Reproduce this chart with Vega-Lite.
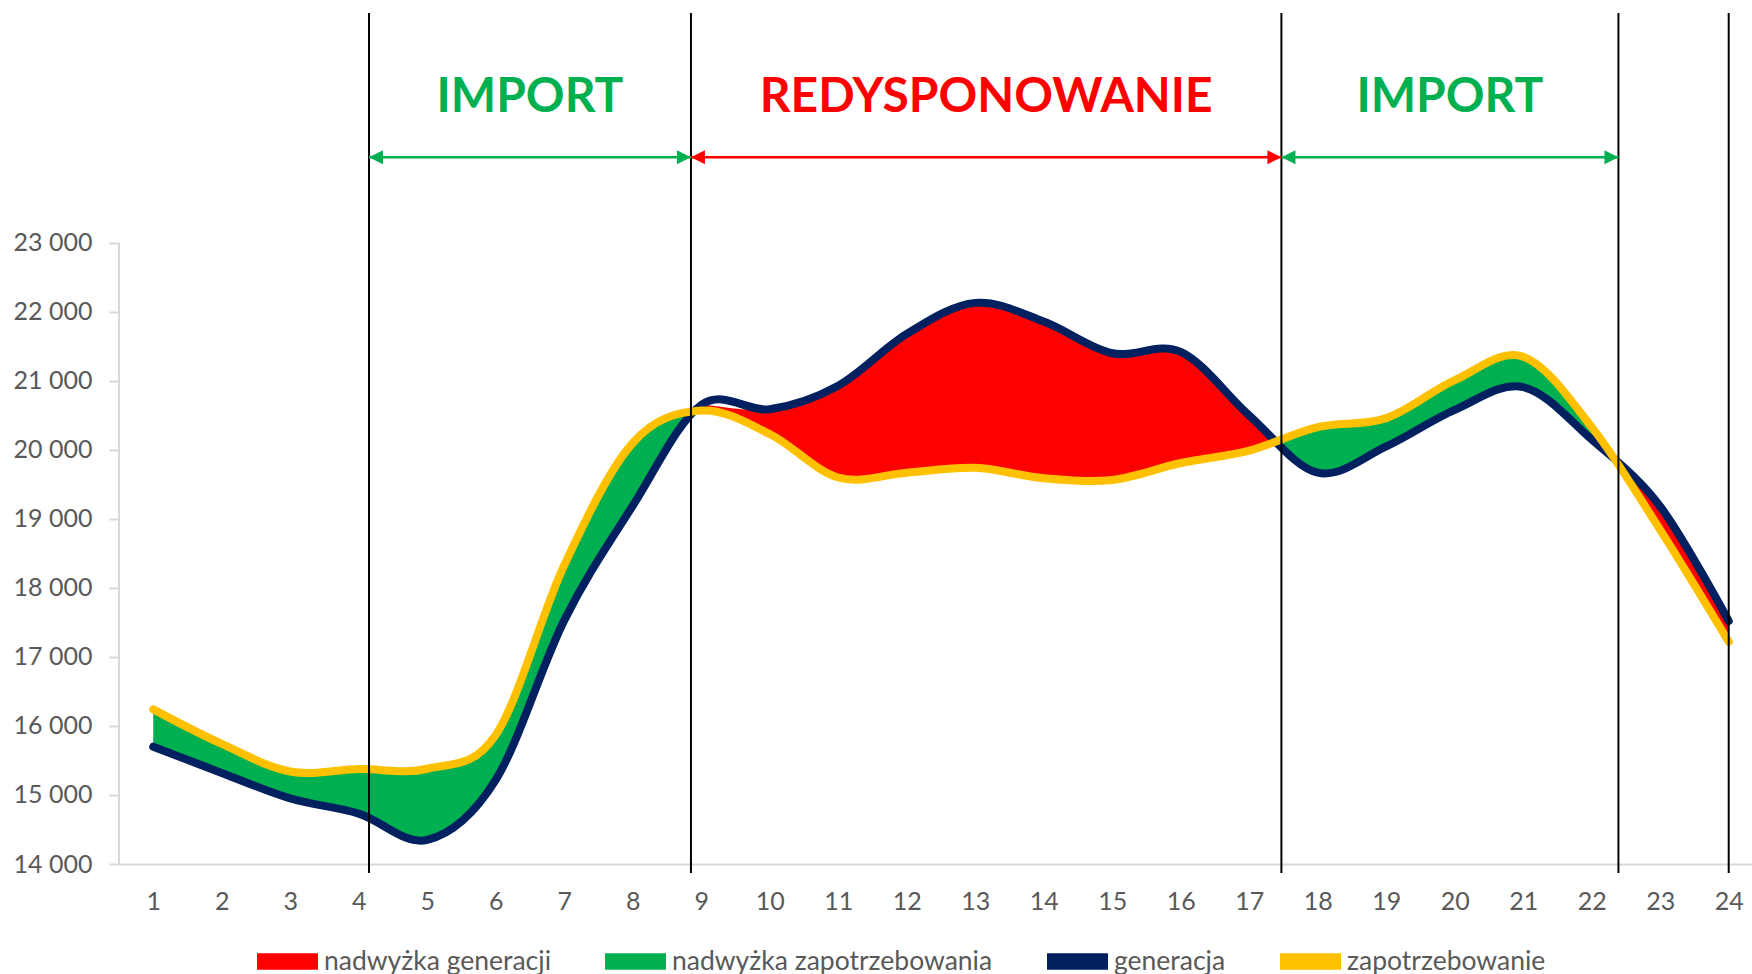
{
  "$schema": "https://vega.github.io/schema/vega-lite/v6.json",
  "autosize": {"type": "none"},
  "width": 1633,
  "height": 851,
  "padding": {"left": 119, "top": 13, "right": 0, "bottom": 110},
  "background": "white",
  "config": {"view": {"stroke": null}, "font": "Lato"},
  "datasets": {
    "dane": [
      {"godzina": 1, "generacja": 15700, "zapotrzebowanie": 16240, "punkt": "godzina", "odcinek": 1, "nadwyzka": "nadwyżka zapotrzebowania"},
      {"godzina": 2, "generacja": 15320, "zapotrzebowanie": 15740, "punkt": "godzina", "odcinek": 1, "nadwyzka": "nadwyżka zapotrzebowania"},
      {"godzina": 3, "generacja": 14950, "zapotrzebowanie": 15340, "punkt": "godzina", "odcinek": 1, "nadwyzka": "nadwyżka zapotrzebowania"},
      {"godzina": 4, "generacja": 14730, "zapotrzebowanie": 15375, "punkt": "godzina", "odcinek": 1, "nadwyzka": "nadwyżka zapotrzebowania"},
      {"godzina": 5, "generacja": 14350, "zapotrzebowanie": 15380, "punkt": "godzina", "odcinek": 1, "nadwyzka": "nadwyżka zapotrzebowania"},
      {"godzina": 6, "generacja": 15220, "zapotrzebowanie": 15870, "punkt": "godzina", "odcinek": 1, "nadwyzka": "nadwyżka zapotrzebowania"},
      {"godzina": 7, "generacja": 17530, "zapotrzebowanie": 18330, "punkt": "godzina", "odcinek": 1, "nadwyzka": "nadwyżka zapotrzebowania"},
      {"godzina": 8, "generacja": 19190, "zapotrzebowanie": 20100, "punkt": "godzina", "odcinek": 1, "nadwyzka": "nadwyżka zapotrzebowania"},
      {"godzina": 8.89, "generacja": 20556, "zapotrzebowanie": 20556, "punkt": "przecięcie", "odcinek": 1, "nadwyzka": "nadwyżka zapotrzebowania"},
      {"godzina": 8.89, "generacja": 20556, "zapotrzebowanie": 20556, "punkt": "przecięcie", "odcinek": 2, "nadwyzka": "nadwyżka generacji"},
      {"godzina": 9, "generacja": 20650, "zapotrzebowanie": 20570, "punkt": "godzina", "odcinek": 2, "nadwyzka": "nadwyżka generacji"},
      {"godzina": 10, "generacja": 20590, "zapotrzebowanie": 20230, "punkt": "godzina", "odcinek": 2, "nadwyzka": "nadwyżka generacji"},
      {"godzina": 11, "generacja": 20930, "zapotrzebowanie": 19600, "punkt": "godzina", "odcinek": 2, "nadwyzka": "nadwyżka generacji"},
      {"godzina": 12, "generacja": 21680, "zapotrzebowanie": 19670, "punkt": "godzina", "odcinek": 2, "nadwyzka": "nadwyżka generacji"},
      {"godzina": 13, "generacja": 22130, "zapotrzebowanie": 19740, "punkt": "godzina", "odcinek": 2, "nadwyzka": "nadwyżka generacji"},
      {"godzina": 14, "generacja": 21860, "zapotrzebowanie": 19590, "punkt": "godzina", "odcinek": 2, "nadwyzka": "nadwyżka generacji"},
      {"godzina": 15, "generacja": 21400, "zapotrzebowanie": 19565, "punkt": "godzina", "odcinek": 2, "nadwyzka": "nadwyżka generacji"},
      {"godzina": 16, "generacja": 21420, "zapotrzebowanie": 19810, "punkt": "godzina", "odcinek": 2, "nadwyzka": "nadwyżka generacji"},
      {"godzina": 17, "generacja": 20500, "zapotrzebowanie": 19990, "punkt": "godzina", "odcinek": 2, "nadwyzka": "nadwyżka generacji"},
      {"godzina": 17.38, "generacja": 20118, "zapotrzebowanie": 20118, "punkt": "przecięcie", "odcinek": 2, "nadwyzka": "nadwyżka generacji"},
      {"godzina": 17.38, "generacja": 20118, "zapotrzebowanie": 20118, "punkt": "przecięcie", "odcinek": 3, "nadwyzka": "nadwyżka zapotrzebowania"},
      {"godzina": 18, "generacja": 19670, "zapotrzebowanie": 20330, "punkt": "godzina", "odcinek": 3, "nadwyzka": "nadwyżka zapotrzebowania"},
      {"godzina": 19, "generacja": 20050, "zapotrzebowanie": 20460, "punkt": "godzina", "odcinek": 3, "nadwyzka": "nadwyżka zapotrzebowania"},
      {"godzina": 20, "generacja": 20580, "zapotrzebowanie": 21010, "punkt": "godzina", "odcinek": 3, "nadwyzka": "nadwyżka zapotrzebowania"},
      {"godzina": 21, "generacja": 20910, "zapotrzebowanie": 21350, "punkt": "godzina", "odcinek": 3, "nadwyzka": "nadwyżka zapotrzebowania"},
      {"godzina": 22, "generacja": 20150, "zapotrzebowanie": 20330, "punkt": "godzina", "odcinek": 3, "nadwyzka": "nadwyżka zapotrzebowania"},
      {"godzina": 22.34, "generacja": 19860, "zapotrzebowanie": 19860, "punkt": "przecięcie", "odcinek": 3, "nadwyzka": "nadwyżka zapotrzebowania"},
      {"godzina": 22.34, "generacja": 19860, "zapotrzebowanie": 19860, "punkt": "przecięcie", "odcinek": 4, "nadwyzka": "nadwyżka generacji"},
      {"godzina": 23, "generacja": 19180, "zapotrzebowanie": 18840, "punkt": "godzina", "odcinek": 4, "nadwyzka": "nadwyżka generacji"},
      {"godzina": 24, "generacja": 17520, "zapotrzebowanie": 17220, "punkt": "godzina", "odcinek": 4, "nadwyzka": "nadwyżka generacji"}
    ],
    "pionowe": [
      {"godzina": 4.15},
      {"godzina": 8.85},
      {"godzina": 17.47},
      {"godzina": 22.39},
      {"godzina": 24.0}
    ],
    "sekcje": [
      {"od": 4.15, "do": 8.85, "srodek": 6.5, "napis": "IMPORT", "rodzaj": "import"},
      {"od": 8.85, "do": 17.47, "srodek": 13.16, "napis": "REDYSPONOWANIE", "rodzaj": "redysponowanie"},
      {"od": 17.47, "do": 22.39, "srodek": 19.93, "napis": "IMPORT", "rodzaj": "import"}
    ]
  },
  "layer": [
    {
      "data": {"name": "dane"},
      "mark": {"type": "area", "interpolate": "cardinal", "opacity": 1},
      "encoding": {
        "x": {
          "field": "godzina", "type": "quantitative",
          "scale": {"domain": [0.5, 24.34], "nice": false, "zero": false},
          "axis": {
            "title": null, "values": [1,2,3,4,5,6,7,8,9,10,11,12,13,14,15,16,17,18,19,20,21,22,23,24],
            "format": "d", "ticks": false, "grid": false,
            "domain": true, "domainColor": "#d9d9d9", "domainWidth": 2,
            "labelFont": "Lato", "labelFontSize": 25, "labelColor": "#595959",
            "labelPadding": 25, "labelFlush": false, "labelOverlap": false
          }
        },
        "y": {
          "field": "generacja", "type": "quantitative",
          "scale": {"domain": [14000, 26330], "nice": false, "zero": false},
          "axis": {
            "title": null, "values": [14000,15000,16000,17000,18000,19000,20000,21000,22000,23000],
            "domain": false, "ticks": true, "tickSize": 10, "tickColor": "#d9d9d9", "tickWidth": 2,
            "grid": false, "labelFont": "Lato", "labelFontSize": 25, "labelColor": "#595959",
            "labelPadding": 17, "labelExpr": "replace(format(datum.value, ','), ',', ' ')"
          }
        },
        "y2": {"field": "zapotrzebowanie"},
        "detail": {"field": "odcinek", "type": "nominal"},
        "color": {
          "field": "nadwyzka", "type": "nominal",
          "scale": {
            "domain": ["nadwyżka generacji", "nadwyżka zapotrzebowania", "generacja", "zapotrzebowanie"],
            "range": ["#FF0000", "#00B050", "#002060", "#FFC000"]
          },
          "legend": {
            "title": null, "orient": "none", "direction": "horizontal",
            "legendX": 138, "legendY": 918, "padding": 0,
            "symbolType": "M-1,-0.27L1,-0.27L1,0.27L-1,0.27Z",
            "symbolSize": 3721, "symbolStrokeWidth": 0,
            "labelFont": "Lato", "labelFontSize": 26.5, "labelColor": "#595959",
            "labelOffset": 6, "columnPadding": 54, "labelLimit": 0,
            "encode": {
              "symbols": {
                "shape": {
                  "condition": {"test": "datum.value === 'generacja' || datum.value === 'zapotrzebowanie'", "value": "M-0.92,-0.15L0.92,-0.15A0.15,0.15 0 0 1 0.92,0.15L-0.92,0.15A0.15,0.15 0 0 1 -0.92,-0.15Z"},
                  "value": "M-1,-0.27L1,-0.27L1,0.27L-1,0.27Z"
                },
                "opacity": {"value": 1}
              }
            }
          }
        }
      }
    },
    {
      "data": {"name": "dane"},
      "transform": [{"filter": "datum.punkt === 'godzina'"}],
      "mark": {"type": "line", "interpolate": "cardinal", "strokeWidth": 8, "strokeCap": "round", "strokeJoin": "round"},
      "encoding": {
        "x": {"field": "godzina", "type": "quantitative", "title": null},
        "y": {"field": "generacja", "type": "quantitative", "title": null},
        "color": {"datum": "generacja", "type": "nominal"}
      }
    },
    {
      "data": {"name": "dane"},
      "transform": [{"filter": "datum.punkt === 'godzina'"}],
      "mark": {"type": "line", "interpolate": "cardinal", "strokeWidth": 8, "strokeCap": "round", "strokeJoin": "round"},
      "encoding": {
        "x": {"field": "godzina", "type": "quantitative", "title": null},
        "y": {"field": "zapotrzebowanie", "type": "quantitative", "title": null},
        "color": {"datum": "zapotrzebowanie", "type": "nominal"}
      }
    },
    {
      "data": {"values": [{}]},
      "mark": {"type": "rule", "color": "#d9d9d9", "strokeWidth": 2},
      "encoding": {
        "x": {"datum": 0.5, "type": "quantitative", "title": null},
        "y": {"datum": 14000, "type": "quantitative", "title": null},
        "y2": {"datum": 23000}
      }
    },
    {
      "data": {"name": "pionowe"},
      "mark": {"type": "rule", "color": "#000000", "strokeWidth": 2},
      "encoding": {
        "x": {"field": "godzina", "type": "quantitative", "title": null},
        "y": {"datum": 26330, "type": "quantitative", "title": null},
        "y2": {"datum": 13870}
      }
    },
    {
      "data": {"name": "sekcje"},
      "mark": {"type": "rule", "strokeWidth": 2.5},
      "encoding": {
        "x": {"field": "od", "type": "quantitative", "title": null},
        "x2": {"field": "do"},
        "y": {"datum": 24240, "type": "quantitative", "title": null},
        "color": {"condition": {"test": "datum.rodzaj === 'import'", "value": "#00B050"}, "value": "#FF0000"}
      }
    },
    {
      "data": {"name": "sekcje"},
      "mark": {"type": "point", "filled": true, "opacity": 1, "size": 784, "strokeWidth": 0, "shape": "M0,0L1,-0.5L1,0.5Z"},
      "encoding": {
        "x": {"field": "od", "type": "quantitative", "title": null},
        "y": {"datum": 24240, "type": "quantitative", "title": null},
        "color": {"condition": {"test": "datum.rodzaj === 'import'", "value": "#00B050"}, "value": "#FF0000"}
      }
    },
    {
      "data": {"name": "sekcje"},
      "mark": {"type": "point", "filled": true, "opacity": 1, "size": 784, "strokeWidth": 0, "shape": "M0,0L-1,-0.5L-1,0.5Z"},
      "encoding": {
        "x": {"field": "do", "type": "quantitative", "title": null},
        "y": {"datum": 24240, "type": "quantitative", "title": null},
        "color": {"condition": {"test": "datum.rodzaj === 'import'", "value": "#00B050"}, "value": "#FF0000"}
      }
    },
    {
      "data": {"name": "sekcje"},
      "mark": {"type": "text", "font": "Lato", "fontSize": 48, "fontWeight": "bold", "align": "center", "baseline": "middle"},
      "encoding": {
        "x": {"field": "srodek", "type": "quantitative", "title": null},
        "y": {"datum": 25100, "type": "quantitative", "title": null},
        "text": {"field": "napis"},
        "color": {"condition": {"test": "datum.rodzaj === 'import'", "value": "#00B050"}, "value": "#FF0000"}
      }
    }
  ]
}
